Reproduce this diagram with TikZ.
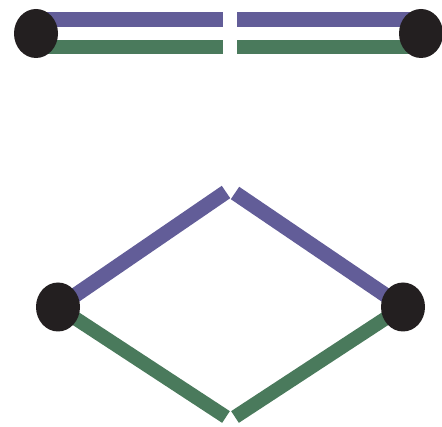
\documentclass[tikz,border=0pt]{standalone}
\usetikzlibrary{shapes.geometric,backgrounds}
\definecolor{bandpurple}{RGB}{98,93,152}
\definecolor{bandgreen}{RGB}{74,122,92}
\definecolor{dotblack}{RGB}{35,31,32}
\begin{document}
\begin{tikzpicture}[x=1pt,y=-1pt,
    dot/.style={draw=none, fill=dotblack, ellipse, minimum width=44pt, minimum height=49pt, inner sep=0pt},
    pband/.style={draw=bandpurple, line width=15pt},
    gband/.style={draw=bandgreen, line width=14pt}]
            \useasboundingbox (0,0) rectangle (442,427);

            % Top pair
            \node[dot] (dotTL) at (36,33.5) {};
            \node[dot] (dotTR) at (421,33.5) {};
            \coordinate (pgapL) at (223,19.5);
            \coordinate (pgapR) at (237,19.5);
            \coordinate (ggapL) at (223,47.5);
            \coordinate (ggapR) at (237,47.5);

            % Bottom pair
            \node[dot] (dotBL) at (58,307) {};
            \node[dot] (dotBR) at (403,307) {};
            \coordinate (ptopL) at (226,192);
            \coordinate (ptopR) at (235,193);
            \coordinate (gbotL) at (226,417);
            \coordinate (gbotR) at (235,417);

            % Bands
            \begin{pgfonlayer}{background}
                \draw[pband] (dotTL.center |- pgapL) -- (pgapL);
                \draw[pband] (pgapR) -- (dotTR.center |- pgapR);
                \draw[gband] (dotTL.center |- ggapL) -- (ggapL);
                \draw[gband] (ggapR) -- (dotTR.center |- ggapR);
                \draw[pband] (dotBL.center) -- (ptopL);
                \draw[pband] (ptopR) -- (dotBR.center);
                \draw[gband] (dotBL.center) -- (gbotL);
                \draw[gband] (gbotR) -- (dotBR.center);
            \end{pgfonlayer}
        \end{tikzpicture}
\end{document}
